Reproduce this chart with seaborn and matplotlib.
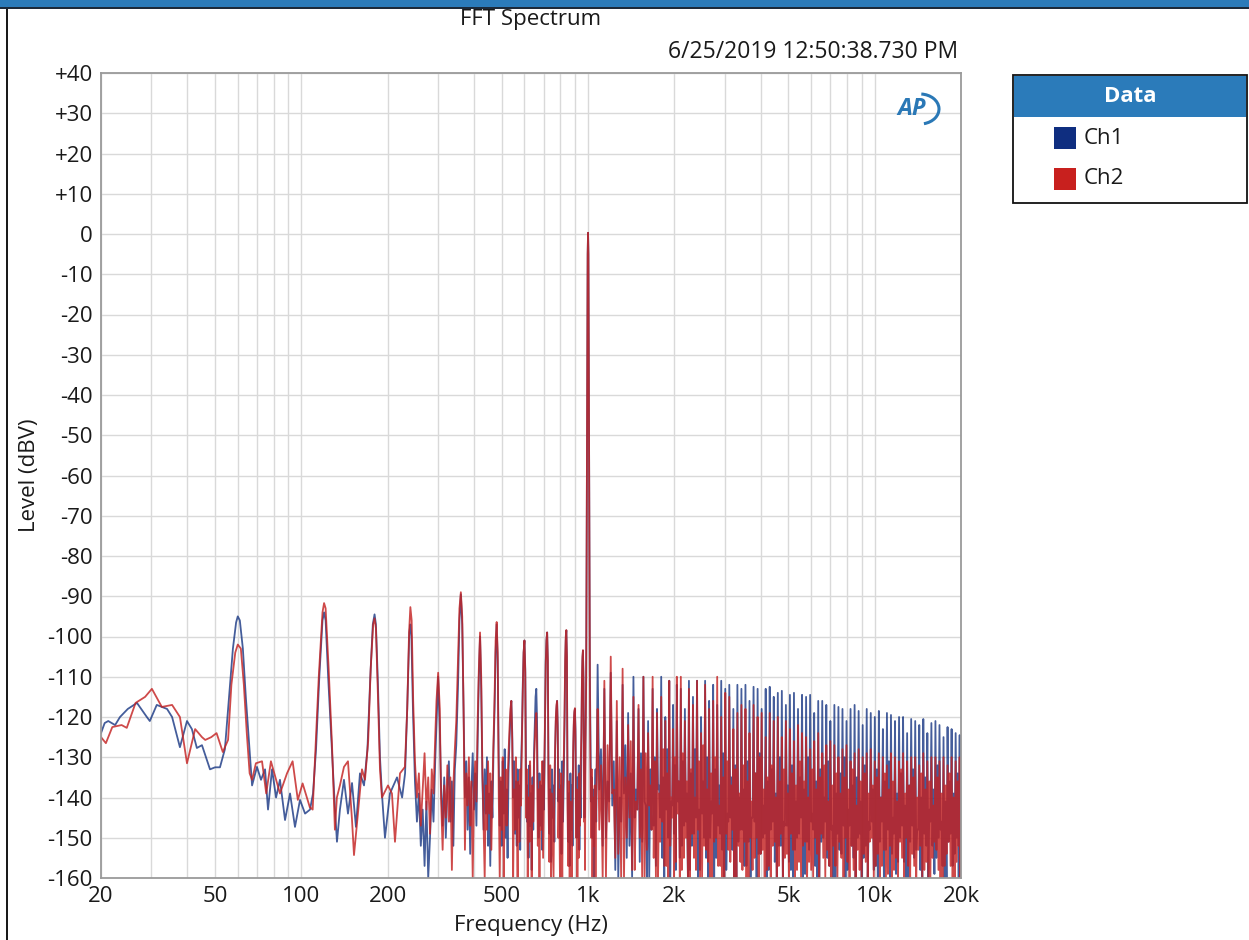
import numpy as np
import pandas as pd
import matplotlib
matplotlib.use("Agg")
import matplotlib.pyplot as plt
import seaborn as sns
from matplotlib.patches import Rectangle, Arc
from matplotlib.ticker import FixedLocator, NullFormatter

# ---------------- data ----------------
# Ch1, 20 Hz .. ~1.07 kHz polyline (frequency in Hz, level in dBV)
ch1_low_hz = [20, 20.6, 21.2, 22.4, 23.3, 24.8, 26.7, 28.9, 29.6, 31.3, 34.0, 35.4, 37.7, 39.9, 41.5, 43.2,
              45.0, 48.0, 50.0, 52.0, 54.1, 55.5, 57.7, 59.2, 60, 61, 62.5, 64, 65.5, 67.3, 70, 72.3, 74.7,
              76.5, 79, 81.6, 84.2, 87.7, 91.3, 95, 98.9, 103, 107.2, 109.8, 112.5, 115.5, 118.5, 120, 121.5,
              124, 127.5, 131, 133.1, 136.3, 140.8, 145.4, 150.2, 155, 160.1, 165.4, 170, 174, 177.5, 180,
              182, 185, 188, 191, 195.7, 203.7, 215.6, 224.6, 230, 234, 238, 240, 242, 245,
              249, 253, 257, 261, 265, 269, 273, 277, 281, 285, 289, 293, 296, 300, 304,
              307, 311, 315, 319, 323, 327, 331, 335, 339, 343, 347, 352, 356, 360, 364, 368,
              372, 376, 380, 384, 388, 392, 396, 400, 404, 408, 412, 416, 420, 424,
              428, 432, 436, 440, 444, 448, 452, 456, 460, 464, 468, 472, 476, 480, 484,
              488, 492, 496, 500, 504, 508, 512, 516, 520, 524, 528, 532, 536, 540, 544,
              548, 552, 556, 560, 564, 568, 572, 576, 580, 584, 588, 592, 596, 600, 604,
              608, 612, 616, 620, 624, 628, 632, 636, 640, 644, 648, 652, 656, 660, 664,
              668, 672, 677, 682, 687, 692, 697, 702, 707, 712, 716, 720, 724,
              728, 733, 738, 743, 748, 753, 758, 763, 768, 772, 776, 780, 784,
              788, 793, 798, 803, 808, 813, 818, 823, 828, 832, 836, 840, 844,
              848, 853, 858, 863, 868, 873, 878, 883, 888, 892, 896, 900, 904,
              908, 913, 918, 923, 928, 933, 938, 943, 948, 952, 956, 960, 964,
              968, 972, 976, 980, 985, 990, 994, 997, 1000, 1003, 1006, 1010, 1015, 1020, 1025, 1030,
              1036, 1042, 1048, 1055, 1062, 1068, 1074]
ch1_low_db = [-124, -121.5, -121, -122, -120, -118, -116.5, -120, -121, -117, -118, -120, -127.5, -121, -123, -127.7,
              -127, -133, -132.5, -132.5, -128, -118, -103, -96.5, -95, -96, -103, -115, -125, -137, -132.4, -135.6, -133,
              -143, -133, -140, -135.6, -145.6, -139, -147.3, -140.6, -144, -143, -139, -128, -110, -96, -94, -96,
              -110, -127, -143, -151, -143, -135.6, -144, -136.4, -147.3, -134, -137, -128, -110, -97, -94.5,
              -97, -112, -130, -139, -150, -139, -135, -140, -134, -118, -99, -97, -100, -118,
              -136, -146, -139, -152, -143, -157, -141, -160, -150, -138, -146, -131, -122, -110, -123,
              -137, -147, -135, -150, -138, -131, -146, -136, -152, -133, -127, -112, -96, -89.5, -97, -118,
              -140, -131, -148, -135, -154, -138, -129, -143, -134, -147, -126, -110, -100, -113,
              -135, -148, -133, -144, -130, -152, -139, -157, -136, -145, -128, -118, -104, -97, -106,
              -130, -147, -136, -152, -131, -144, -128, -150, -138, -155, -134, -126, -120, -116, -124,
              -140, -131, -149, -136, -152, -133, -145, -137, -153, -132, -124, -112, -104, -101, -108,
              -133, -146, -137, -155, -132, -147, -139, -158, -135, -148, -129, -122, -115, -113, -121,
              -140, -150, -134, -147, -137, -153, -131, -143, -124, -106, -101, -99, -106,
              -134, -149, -138, -156, -133, -145, -137, -151, -128, -121, -118, -116, -122,
              -141, -133, -150, -137, -154, -131, -146, -135, -122, -108, -101, -98.5, -105,
              -136, -151, -139, -157, -134, -148, -137, -152, -129, -122, -119, -118, -123,
              -140, -150, -135, -147, -132, -153, -138, -145, -126, -112, -106, -103.5, -110,
              -132, -145, -136, -124, -110, -70, -30, -5, 0.3, -5, -30, -70, -110, -127, -141, -135,
              -150, -138, -160, -142, -133, -146, -125]

# Ch2, 20 Hz .. ~1.07 kHz polyline
ch2_low_hz = [20, 20.8, 21.9, 23.6, 24.6, 26.4, 28.5, 30.1, 32.6, 35.4, 37.7, 39.9, 42.6, 45.0, 46.2, 48.5,
              50.6, 53.2, 55.5, 57, 58.8, 60, 61.5, 63, 64.5, 66, 67.3, 69.4, 72.9, 75.4, 78.3, 81.6, 84.2,
              89.1, 93.2, 97.2, 101, 107, 109.5, 111.6, 115, 118.5, 120, 121.5, 124.5, 127.9, 130.9, 133,
              136.3, 140.8, 145.4, 150.2, 152.6, 157.5, 162.7, 166.7, 171, 174.5, 178, 180, 182, 185, 188,
              191, 200.5, 207, 212.1, 220.8, 229.7, 234, 237.5, 240, 242.5, 245.5,
              249, 253, 257, 261, 265, 269, 273, 277, 281, 285, 289, 293, 296, 300, 304,
              307, 311, 315, 319, 323, 327, 331, 335, 339, 343, 347, 352, 356, 360, 364, 368,
              372, 376, 380, 384, 388, 392, 396, 400, 404, 408, 412, 416, 420, 424,
              428, 432, 436, 440, 444, 448, 452, 456, 460, 464, 468, 472, 476, 480, 484,
              488, 492, 496, 500, 504, 508, 512, 516, 520, 524, 528, 532, 536, 540, 544,
              548, 552, 556, 560, 564, 568, 572, 576, 580, 584, 588, 592, 596, 600, 604,
              608, 612, 616, 620, 624, 628, 632, 636, 640, 644, 648, 652, 656, 660, 664,
              668, 672, 677, 682, 687, 692, 697, 702, 707, 712, 716, 720, 724,
              728, 733, 738, 743, 748, 753, 758, 763, 768, 772, 776, 780, 784,
              788, 793, 798, 803, 808, 813, 818, 823, 828, 832, 836, 840, 844,
              848, 853, 858, 863, 868, 873, 878, 883, 888, 892, 896, 900, 904,
              908, 913, 918, 923, 928, 933, 938, 943, 948, 952, 956, 960, 964,
              968, 972, 976, 980, 985, 990, 994, 997, 1000, 1003, 1006, 1010, 1015, 1020, 1025, 1030,
              1036, 1042, 1048, 1055, 1062, 1068, 1074]
ch2_low_db = [-125, -126.5, -122.5, -122, -122.7, -116.5, -115, -113, -117.5, -117, -120, -131.5, -123, -125, -125.7, -125,
              -124, -128.7, -125.7, -112, -104, -102, -103, -112, -124, -134, -135.6, -131.5, -131, -139, -131, -135.6, -139,
              -134, -131, -140.6, -136.5, -142.4, -143, -130, -110, -94, -91.7, -93, -108, -127, -148, -140,
              -137, -132.4, -131, -145.6, -154.3, -144, -133, -135.6, -126, -108, -97, -95.5, -98, -115, -133,
              -140, -137, -139, -151, -134, -132.4, -118, -99, -92.7, -96, -116,
              -131, -140, -134, -147, -138, -129, -143, -135, -149, -133, -139, -125, -116, -109, -118,
              -140, -153, -137, -145, -132, -146, -135, -158, -137, -128, -121, -105, -93, -89, -95, -118,
              -153, -134, -142, -130, -147, -136, -160, -139, -131, -141, -121, -108, -99, -110,
              -133, -146, -160, -137, -148, -131, -144, -134, -153, -137, -126, -115, -101, -96.4, -104,
              -139, -160, -135, -148, -130, -160, -141, -133, -147, -136, -129, -123, -118, -116, -126,
              -160, -138, -148, -130, -144, -160, -136, -151, -133, -142, -126, -114, -104, -101, -109,
              -145, -133, -160, -140, -151, -131, -143, -160, -137, -146, -132, -126, -121, -119, -128,
              -152, -138, -160, -136, -148, -131, -155, -139, -125, -107, -101, -99, -106,
              -141, -156, -132, -160, -139, -150, -160, -136, -127, -120, -117, -116, -124,
              -150, -138, -160, -134, -146, -160, -139, -130, -119, -106, -100, -98.4, -105,
              -143, -157, -136, -160, -141, -152, -160, -138, -127, -121, -118.5, -117.8, -125,
              -150, -138, -160, -141, -155, -134, -147, -131, -124, -111, -105, -103.4, -112,
              -146, -134, -158, -127, -112, -70, -30, -5, 0.3, -5, -30, -70, -112, -138, -150, -133,
              -160, -140, -152, -137, -160, -141, -128]

# Harmonic spikes above 1 kHz (as they appear on screen)
spike_hz = [1080, 1140, 1200, 1260, 1320, 1380, 1440, 1500, 1560, 1620, 1680, 1740, 1800, 1860, 1920, 1980, 2040,
            2107, 2177, 2249, 2323, 2400, 2479, 2561, 2645,
            2732, 2822, 2915, 3011, 3110, 3213, 3319, 3428,
            3541, 3658, 3779, 3904, 4033, 4166, 4303, 4445,
            4592, 4743, 4900, 5061, 5228, 5401, 5579,
            5763, 5953, 6150, 6353, 6562, 6779, 7002,
            7233, 7472, 7719, 7973, 8236, 8508, 8789, 9079,
            9379, 9688, 10008, 10338, 10679, 11032, 11396, 11772, 12160,
            12561, 12976, 13404, 13846, 14303, 14775, 15263, 15767,
            16287, 16824, 17380, 17953, 18546, 19158, 19790]

ch1_peak_db = [-107, -113, -109, -121, -112, -119, -110, -118, -110, -121, -113, -118, -110, -120, -111, -117, -112,
               -113, -118, -111, -115, -111, -120, -111, -116,
               -112, -117, -111, -113, -112, -118, -112, -113,
               -112, -116, -112.5, -113, -118, -113, -112.5, -115,
               -114, -113.5, -117, -114.5, -114, -118, -114.5,
               -115, -114.5, -119, -116, -116, -117, -121,
               -117, -117.5, -118, -121, -118, -117, -118.5, -122,
               -118, -119, -120, -118.5, -123, -119, -119.5, -121, -120,
               -120, -124, -120.5, -121, -122, -120.5, -124, -121.5,
               -121, -122, -125, -122.5, -123, -124, -124.5]
ch2_peak_db = [-118, -111, -105, -116, -108, -122, -115, -117, -110, -124, -110, -119, -115, -121, -111, -123, -110,
               -110, -121, -113, -117, -111, -124, -112, -118,
               -116, -110, -120, -114, -115, -123, -119, -117,
               -118, -124, -117, -120, -119, -125, -119, -121,
               -120, -125, -121, -123, -126, -122, -124,
               -125, -128, -126, -124, -129, -127, -126,
               -127, -130, -128, -127, -131, -129, -128, -130,
               -129, -128, -131, -129, -130, -132, -129, -130, -131,
               -129, -131, -130, -130, -132, -129, -131, -130,
               -130, -131, -130, -132, -130, -131, -130]

# noise between successive spikes: first dip, small noise bump, second dip
ch1_floor_db = [-138, -150, -142, -160, -139, -152, -145, -156, -141, -160, -147, -138, -155, -143, -160, -149, -141,
                -152, -146, -158, -149, -160, -144, -155, -150, -160, -147,
                -153, -158, -145, -160, -151, -148, -157, -160, -146, -154,
                -150, -160, -148, -156, -152, -160, -147, -158, -153, -149,
                -160, -151, -146, -157, -160, -150, -155, -148, -160, -153,
                -147, -158, -152, -160, -149, -155, -160, -146, -157, -151,
                -160, -148, -154, -159, -150, -156, -160, -147, -153, -158,
                -149, -160, -152, -155, -148, -160, -151, -157, -150, -160]
ch1_bump_db = [-128, -136, -131, -140, -127, -134, -138, -129, -142, -133, -130, -137, -135, -128, -141, -132, -136,
               -131, -139, -134, -128, -143, -136, -130, -141, -133, -137,
               -129, -144, -135, -132, -140, -138, -131, -145, -134, -129,
               -142, -136, -133, -139, -130, -146, -137, -132, -141, -135,
               -138, -130, -144, -136, -133, -140, -131, -147, -139, -134,
               -130, -143, -137, -135, -141, -132, -146, -138, -133, -140,
               -136, -131, -145, -139, -134, -142, -137, -133, -148, -140,
               -135, -143, -138, -132, -146, -141, -136, -139, -134, -144]
ch1_floor2_db = [-152, -141, -158, -146, -155, -160, -143, -151, -160, -148, -157, -145, -160, -150, -142, -158, -155,
                 -147, -160, -152, -145, -158, -150, -160, -144, -155, -149,
                 -160, -146, -153, -160, -148, -157, -151, -145, -160, -154,
                 -149, -158, -146, -160, -152, -147, -156, -160, -150, -145,
                 -159, -153, -148, -160, -151, -146, -157, -160, -149, -154,
                 -160, -147, -155, -150, -160, -152, -148, -158, -160, -146,
                 -153, -160, -149, -156, -147, -160, -151, -155, -148, -160,
                 -152, -146, -159, -150, -157, -160, -149, -154, -160, -151]

ch2_floor_db = [-148, -160, -139, -154, -160, -145, -158, -150, -160, -142, -155, -160, -146, -157, -152, -160, -144,
                -158, -150, -160, -155, -148, -160, -153, -160, -151, -157,
                -160, -149, -156, -160, -152, -158, -160, -150, -155, -160,
                -153, -158, -160, -151, -157, -160, -154, -149, -160, -156,
                -152, -160, -158, -150, -160, -155, -153, -160, -157, -151,
                -160, -156, -152, -160, -158, -154, -160, -150, -157, -160,
                -153, -159, -160, -155, -151, -160, -157, -154, -160, -152,
                -158, -160, -155, -153, -160, -157, -151, -160, -156, -160]
ch2_bump_db = [-132, -127, -138, -130, -135, -126, -141, -133, -129, -137, -131, -139, -128, -134, -140, -130, -136,
               -129, -136, -133, -140, -131, -127, -138, -134, -130, -142,
               -135, -131, -137, -133, -139, -132, -136, -141, -134, -130,
               -138, -135, -132, -140, -136, -133, -139, -134, -137, -131,
               -136, -140, -133, -138, -135, -132, -141, -137, -134, -139,
               -135, -138, -133, -142, -136, -134, -139, -137, -135, -140,
               -134, -138, -136, -141, -133, -139, -137, -135, -140, -134,
               -138, -136, -142, -135, -139, -137, -134, -140, -136, -138]
ch2_floor2_db = [-160, -146, -155, -160, -150, -158, -143, -160, -153, -148, -160, -151, -157, -160, -145, -156, -160,
                 -155, -160, -149, -158, -160, -152, -156, -160, -150, -157,
                 -160, -153, -148, -160, -156, -151, -160, -158, -150, -154,
                 -160, -157, -152, -160, -149, -155, -160, -153, -158, -160,
                 -151, -156, -160, -154, -149, -160, -157, -152, -160, -155,
                 -150, -160, -158, -153, -160, -156, -151, -160, -154, -157,
                 -160, -152, -158, -160, -155, -150, -160, -157, -153, -160,
                 -156, -160, -151, -158, -160, -154, -157, -160, -152, -160]

x_tick_hz = [20, 50, 100, 200, 500, 1000, 2000, 5000, 10000, 20000]
x_tick_labels = ["20", "50", "100", "200", "500", "1k", "2k", "5k", "10k", "20k"]
y_ticks = list(range(-160, 41, 10))
channels = ["Ch1", "Ch2"]

for arr in (ch1_peak_db, ch2_peak_db, ch1_floor_db, ch2_floor_db, ch1_bump_db, ch2_bump_db,
            ch1_floor2_db, ch2_floor2_db):
    assert len(arr) == len(spike_hz), len(arr)
assert len(ch1_low_hz) == len(ch1_low_db), (len(ch1_low_hz), len(ch1_low_db))
assert len(ch2_low_hz) == len(ch2_low_db), (len(ch2_low_hz), len(ch2_low_db))


def build(low_hz, low_db, peaks, floors, bumps, floors2):
    hz = list(low_hz)
    db = list(low_db)
    bounds = spike_hz + [20000]
    for i, f in enumerate(spike_hz):
        r = bounds[i + 1] / f
        hz += [f, f * r ** 0.25, f * r ** 0.5, f * r ** 0.75]
        db += [peaks[i], floors[i], bumps[i], floors2[i]]
    return hz, db


h1, d1 = build(ch1_low_hz, ch1_low_db, ch1_peak_db, ch1_floor_db, ch1_bump_db, ch1_floor2_db)
h2, d2 = build(ch2_low_hz, ch2_low_db, ch2_peak_db, ch2_floor_db, ch2_bump_db, ch2_floor2_db)
df = pd.DataFrame({"Hz": h1 + h2, "dBV": d1 + d2,
                   "ch": [channels[0]] * len(h1) + [channels[1]] * len(h2)})

# ---------------- figure ----------------
sns.set_theme(style="white")
plt.rcParams["font.family"] = ["Open Sans", "DejaVu Sans"]

W, H = 1249, 940
fig = plt.figure(figsize=(W / 100, H / 100), dpi=100)
fig.patch.set_facecolor("white")


def fx(x):
    return x / W


def fy(y):
    return 1 - y / H


ax = fig.add_axes([fx(101), fy(878), fx(961) - fx(101), fy(73) - fy(878)])

line_cols = {"Ch1": "#10307f", "Ch2": "#c42222"}
alphas = {"Ch1": 0.78, "Ch2": 0.82}
for c in channels:
    sub = df[df["ch"] == c]
    sns.lineplot(data=sub, x="Hz", y="dBV", sort=False, estimator=None, ax=ax,
                 color=line_cols[c], alpha=alphas[c], lw=1.3, legend=False)

ax.set_xscale("log")
ax.set_xlim(20, 20000)
ax.set_ylim(-160, 40)
ax.xaxis.set_major_locator(FixedLocator(x_tick_hz))
ax.set_xticklabels(x_tick_labels)
minor = [m * d for d in (10, 100, 1000, 10000) for m in range(1, 10)
         if 20 < m * d < 20000 and m * d not in x_tick_hz]
ax.xaxis.set_minor_locator(FixedLocator(minor))
ax.xaxis.set_minor_formatter(NullFormatter())
ax.set_yticks(y_ticks)
ax.set_yticklabels([("+%d" % v) if v > 0 else str(v) for v in y_ticks])
ax.grid(which="both", color="#d9d9d9", lw=1.0)
ax.set_axisbelow(True)
FS = 16
ax.tick_params(which="both", length=0, labelsize=FS, colors="#1a1a1a")
ax.tick_params(axis="y", pad=6)
ax.tick_params(axis="x", pad=6)
for s in ax.spines.values():
    s.set_color("#9a9a9a")
    s.set_linewidth(1.3)
ax.set_xlabel("")
ax.set_ylabel("")
fig.text(fx(531), fy(925), "Frequency (Hz)", ha="center", va="center", fontsize=FS, color="#1a1a1a")
fig.text(fx(29), fy(475), "Level (dBV)", ha="center", va="center", rotation=90, fontsize=FS, color="#1a1a1a")

# titles
fig.text(fx(531), fy(20), "FFT Spectrum", ha="center", va="center", fontsize=FS, color="#1a1a1a")
fig.text(fx(958), fy(52), "6/25/2019 12:50:38.730 PM", ha="right", va="center", fontsize=16.5, color="#1a1a1a")

# AP logo
ap_col = "#2a78b6"
fig.text(fx(912), fy(109), "AP", ha="center", va="center", fontsize=17, fontweight="bold",
         fontstyle="italic", color=ap_col)
fig.add_artist(Arc((920, H - 109), 38, 30, theta1=-75, theta2=85, lw=2.2, color=ap_col, transform=None))

# window chrome
fig.add_artist(Rectangle((0, fy(7)), 1, 7 / H, transform=fig.transFigure, fc="#2b7bba", ec="none"))
fig.add_artist(Rectangle((0, fy(9)), 1, 2 / H, transform=fig.transFigure, fc="#1c2a3a", ec="none"))
fig.add_artist(Rectangle((fx(6), 0), 2 / W, fy(9), transform=fig.transFigure, fc="#1a1a1a", ec="none"))

# legend box
fig.add_artist(Rectangle((fx(1013), fy(203)), fx(1247) - fx(1013), fy(75) - fy(203),
                         transform=fig.transFigure, fc="white", ec="#111111", lw=1.3))
fig.add_artist(Rectangle((fx(1014), fy(117)), fx(1246) - fx(1014), fy(76) - fy(117),
                         transform=fig.transFigure, fc="#2b7bba", ec="none"))
fig.text(fx(1130), fy(97), "Data", ha="center", va="center", fontsize=FS, fontweight="bold", color="white")
leg_cols = {"Ch1": "#0f2e80", "Ch2": "#c8201e"}
for c, yc in zip(channels, (138, 179)):
    fig.add_artist(Rectangle((fx(1054), fy(yc + 11)), 22 / W, 22 / H, transform=fig.transFigure,
                             fc=leg_cols[c], ec="none"))
    fig.text(fx(1084), fy(yc), c, ha="left", va="center", fontsize=FS, color="#1a1a1a")

fig.savefig("out.png", dpi=100)
